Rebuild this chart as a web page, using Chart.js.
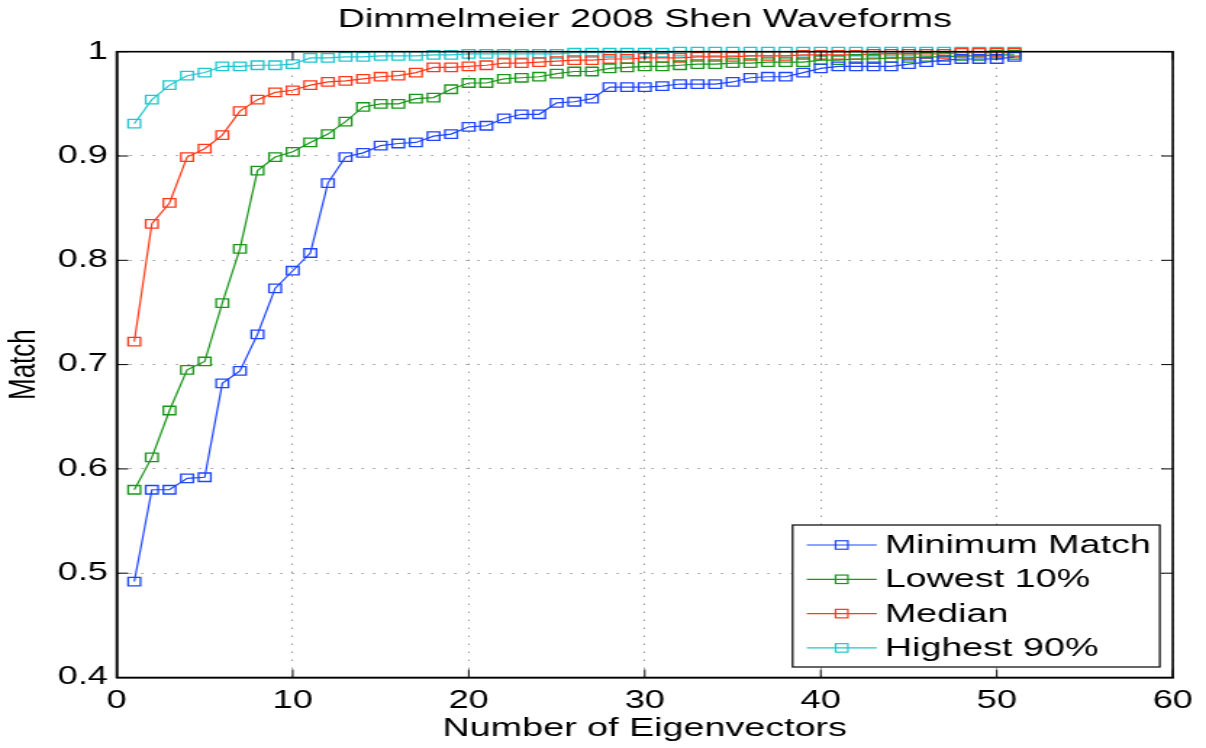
<!DOCTYPE html>
<html>
<head>
<meta charset="utf-8">
<script src="https://cdn.jsdelivr.net/npm/chart.js@4.4.1/dist/chart.umd.min.js"></script>
<style>
  html, body { margin: 0; padding: 0; background: #fff; overflow: hidden; }
  #matchChart { transform: scaleX(1.4495); transform-origin: 0 0; }
</style>
</head>
<body>
<canvas id="matchChart" width="832" height="748"></canvas>
<script>
// number of eigenvectors used
const eigenvectors = [1, 2, 3, 4, 5, 6, 7, 8, 9, 10, 11, 12, 13, 14, 15, 16, 17, 18, 19, 20,
    21, 22, 23, 24, 25, 26, 27, 28, 29, 30, 31, 32, 33, 34, 35, 36, 37, 38, 39, 40,
    41, 42, 43, 44, 45, 46, 47, 48, 49, 50, 51]

const minimumMatch = [0.492, 0.580, 0.580, 0.591, 0.592, 0.682, 0.694, 0.729, 0.773, 0.790,
    0.807, 0.874, 0.899, 0.903, 0.910, 0.912, 0.913, 0.919, 0.921, 0.928,
    0.929, 0.936, 0.940, 0.940, 0.951, 0.952, 0.955, 0.966, 0.966, 0.966,
    0.967, 0.969, 0.969, 0.969, 0.971, 0.975, 0.976, 0.976, 0.980, 0.984,
    0.986, 0.986, 0.986, 0.986, 0.988, 0.990, 0.992, 0.993, 0.993, 0.993, 0.995]

const lowest10 = [0.580, 0.611, 0.656, 0.695, 0.703, 0.759, 0.811, 0.886, 0.899, 0.904,
    0.913, 0.921, 0.933, 0.947, 0.950, 0.950, 0.955, 0.956, 0.964, 0.970,
    0.970, 0.974, 0.975, 0.976, 0.979, 0.981, 0.981, 0.984, 0.985, 0.986,
    0.986, 0.987, 0.988, 0.988, 0.989, 0.989, 0.990, 0.990, 0.990, 0.992,
    0.992, 0.993, 0.993, 0.994, 0.994, 0.995, 0.995, 0.996, 0.996, 0.997, 0.997]

const median = [0.722, 0.835, 0.855, 0.899, 0.907, 0.920, 0.943, 0.954, 0.961, 0.963,
    0.968, 0.971, 0.972, 0.974, 0.976, 0.977, 0.980, 0.985, 0.985, 0.986,
    0.987, 0.989, 0.989, 0.990, 0.991, 0.992, 0.992, 0.993, 0.993, 0.994,
    0.994, 0.994, 0.995, 0.995, 0.995, 0.996, 0.996, 0.996, 0.997, 0.997,
    0.997, 0.997, 0.998, 0.998, 0.998, 0.998, 0.998, 0.999, 0.999, 0.999, 0.999]

const highest90 = [0.931, 0.954, 0.968, 0.977, 0.980, 0.986, 0.986, 0.987, 0.987, 0.988,
    0.994, 0.994, 0.995, 0.995, 0.996, 0.996, 0.996, 0.997, 0.997, 0.998,
    0.998, 0.998, 0.998, 0.998, 0.998, 0.999, 0.999, 0.999, 0.999, 0.999,
    0.999, 1.000, 1.000, 1.000, 1.000, 1.000, 1.000, 1.000, 1.000, 1.000,
    1.000, 1.000, 1.000, 1.000, 1.000, 1.000, 1.000, 1.000, 1.000, 1.000, 1.000]

const seriesNames = ['Minimum Match', 'Lowest 10%', 'Median', 'Highest 90%']
const xTicks = [0, 10, 20, 30, 40, 50, 60]
const xTickLabels = ['0', '10', '20', '30', '40', '50', '60']
const yTicks = [0.4, 0.5, 0.6, 0.7, 0.8, 0.9, 1]
const yTickLabels = ['0.4', '0.5', '0.6', '0.7', '0.8', '0.9', '1']

const colors = ['#1f45ff', '#1a961a', '#ff3a1a', '#1ec8cf']
const fontFamily = "'Liberation Sans', Arial, sans-serif"

function toPoints(values) {
    return values.map((v, i) => ({ x: eigenvectors[i], y: v }))
}

// black box round the plot plus small inward ticks on all four sides
const axesBox = {
    id: 'axesBox',
    afterDraw(chart) {
        const { ctx, chartArea: a, scales } = chart
        ctx.save()
        ctx.strokeStyle = '#000'
        ctx.lineWidth = 1
        ctx.beginPath()
        xTicks.forEach((v) => {
            const px = scales.x.getPixelForValue(v)
            ctx.moveTo(px, a.bottom)
            ctx.lineTo(px, a.bottom - 8)
            ctx.moveTo(px, a.top)
            ctx.lineTo(px, a.top + 8)
        })
        yTicks.forEach((v) => {
            const py = scales.y.getPixelForValue(v)
            ctx.moveTo(a.left, py)
            ctx.lineTo(a.left + 8, py)
            ctx.moveTo(a.right, py)
            ctx.lineTo(a.right - 8, py)
        })
        ctx.stroke()
        ctx.lineWidth = 1.6
        ctx.strokeRect(a.left, a.top, a.right - a.left, a.bottom - a.top)
        ctx.restore()
    }
}

// legend drawn inside the lower right corner of the plot
const insideLegend = {
    id: 'insideLegend',
    afterDatasetsDraw(chart) {
        const { ctx, chartArea: a } = chart
        const w = 253.3
        const h = 142
        const left = a.right - 9 - w
        const top = a.bottom - 10.5 - h
        ctx.save()
        ctx.fillStyle = '#fff'
        ctx.fillRect(left, top, w, h)
        ctx.strokeStyle = '#000'
        ctx.lineWidth = 1.2
        ctx.strokeRect(left, top, w, h)
        ctx.font = `26px ${fontFamily}`
        ctx.textBaseline = 'middle'
        chart.data.datasets.forEach((ds, i) => {
            const y = top + 20 + i * 34.3
            ctx.strokeStyle = ds.borderColor
            ctx.lineWidth = 1.2
            ctx.beginPath()
            ctx.moveTo(left + 9.8, y)
            ctx.lineTo(left + 58.1, y)
            ctx.stroke()
            const s = 6 * Math.SQRT1_2
            ctx.strokeRect(left + 33.9 - s, y - s, 2 * s, 2 * s)
            ctx.fillStyle = '#000'
            ctx.fillText(ds.label, left + 63.6, y + 1)
        })
        ctx.restore()
    }
}

const datasets = [minimumMatch, lowest10, median, highest90].map((values, i) => ({
    label: seriesNames[i],
    data: toPoints(values),
    borderColor: colors[i],
    backgroundColor: 'rgba(0,0,0,0)',
    borderWidth: 1.2,
    pointStyle: 'rect',
    pointRadius: 6,
    pointBorderWidth: 1.3,
    pointBackgroundColor: 'rgba(0,0,0,0)',
    pointBorderColor: colors[i],
    tension: 0,
    clip: false,
}))

new Chart(document.getElementById('matchChart'), {
    type: 'line',
    data: { datasets },
    options: {
        responsive: false,
        animation: false,
        devicePixelRatio: 1,
        layout: { padding: { left: 0, right: 20.7, top: 0, bottom: 0 } },
        plugins: {
            legend: { display: false },
            tooltip: { enabled: false },
            title: {
                display: true,
                fullSize: false,
                text: 'Dimmelmeier 2008 Shen Waveforms',
                color: '#000',
                font: { family: fontFamily, size: 26, weight: 'normal' },
                padding: { top: 4, bottom: 16.5 },
            },
        },
        scales: {
            x: {
                type: 'linear',
                min: 0,
                max: 60,
                afterBuildTicks: (scale) => { scale.ticks = xTicks.map((v) => ({ value: v })) },
                afterFit: (scale) => { scale.height = 70.5 },
                ticks: {
                    color: '#000',
                    padding: 9,
                    maxRotation: 0,
                    font: { family: fontFamily, size: 25 },
                    callback: (value) => xTickLabels[xTicks.indexOf(value)],
                },
                grid: { color: 'rgba(0,0,0,0.6)', lineWidth: 1, drawTicks: false },
                border: { display: true, color: '#000', width: 1.6, dash: [1, 7] },
                title: {
                    display: true,
                    text: 'Number of Eigenvectors',
                    color: '#000',
                    font: { family: fontFamily, size: 26 },
                    padding: { top: 0, bottom: 4 },
                },
            },
            y: {
                type: 'linear',
                min: 0.4,
                max: 1,
                afterBuildTicks: (scale) => { scale.ticks = yTicks.map((v) => ({ value: v })) },
                afterFit: (scale) => { scale.width = 80.5 },
                ticks: {
                    color: '#000',
                    padding: 6,
                    font: { family: fontFamily, size: 25 },
                    callback: (value) => yTickLabels[yTicks.findIndex((t) => Math.abs(t - value) < 1e-9)],
                },
                grid: { color: 'rgba(0,0,0,0.6)', lineWidth: 1, drawTicks: false },
                border: { display: true, color: '#000', width: 1.6, dash: [1, 7] },
                title: {
                    display: true,
                    text: 'Match',
                    color: '#000',
                    font: { family: fontFamily, size: 26 },
                    padding: { top: 1.5, bottom: 0 },
                },
            },
        },
    },
    plugins: [axesBox, insideLegend],
})
</script>
</body>
</html>
